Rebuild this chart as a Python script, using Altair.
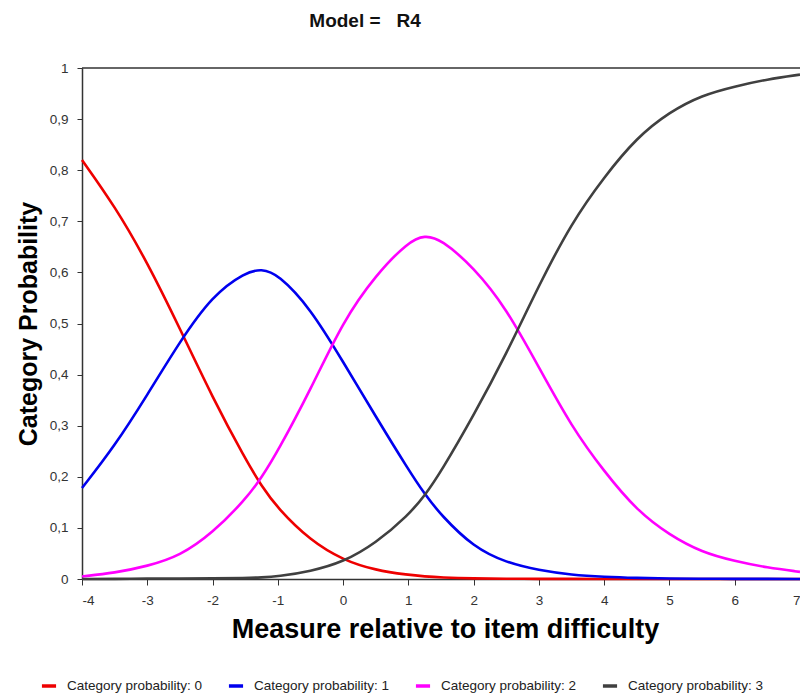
import altair as alt
import pandas as pd

x_vals = [-4, -3.5, -3, -2.5, -2, -1.5, -1.25, -1, -0.5, 0, 0.5, 1, 1.25, 1.5, 2, 2.5, 3, 3.5,
          4, 4.5, 5, 5.5, 6, 6.5, 7]

p0 = [0.82, 0.73, 0.62, 0.49, 0.355, 0.235, 0.182, 0.138, 0.075, 0.037, 0.017, 0.008, 0.005,
      0.003, 0.001, 0.0005, 0.0003, 0.0002, 0.0001, 0.0, 0.0, 0.0, 0.0, 0.0, 0.0]
p1 = [0.178, 0.26, 0.36, 0.465, 0.555, 0.600, 0.607, 0.597, 0.53, 0.425, 0.318, 0.214, 0.166,
      0.125, 0.062, 0.032, 0.017, 0.008, 0.004, 0.002, 0.001, 0.0005, 0.0003, 0.0002, 0.0001]
p2 = [0.005, 0.012, 0.025, 0.045, 0.09, 0.155, 0.198, 0.25, 0.37, 0.505, 0.595, 0.66, 0.673,
      0.665, 0.61, 0.53, 0.414, 0.298, 0.21, 0.134, 0.086, 0.052, 0.035, 0.022, 0.014]
p3 = [0.0, 0.0, 0.001, 0.001, 0.001, 0.002, 0.003, 0.005, 0.015, 0.033, 0.07, 0.125, 0.163,
      0.21, 0.32, 0.44, 0.575, 0.697, 0.787, 0.864, 0.914, 0.947, 0.964, 0.978, 0.987]

categories = ["Category probability: 0", "Category probability: 1",
              "Category probability: 2", "Category probability: 3"]
colors = ["#ee0000", "#0000ee", "#ff00ff", "#404040"]

x_ticks = [-4, -3, -2, -1, 0, 1, 2, 3, 4, 5, 6, 7]
y_ticks = [0, 0.1, 0.2, 0.3, 0.4, 0.5, 0.6, 0.7, 0.8, 0.9, 1]

rows = []
for cat, vals in zip(categories, [p0, p1, p2, p3]):
    for xv, pv in zip(x_vals, vals):
        rows.append({"x": xv, "p": pv, "cat": cat})
df = pd.DataFrame(rows)

W, H = 718, 511

lines = alt.Chart(df).mark_line(strokeWidth=2.6, interpolate="basis").encode(
    x=alt.X("x:Q",
            scale=alt.Scale(domain=[-4, 7], nice=False, zero=False),
            axis=alt.Axis(values=x_ticks, title="Measure relative to item difficulty",
                          labelExpr="'' + datum.value",
                          tickSize=6, labelPadding=8,
                          titleX=(445 - 82), titleY=58, titleAlign="center",
                          titleBaseline="alphabetic", titleFontSize=27)),
    y=alt.Y("p:Q",
            scale=alt.Scale(domain=[0, 1], nice=False),
            axis=alt.Axis(values=y_ticks, title="Category Probability",
                          labelExpr="datum.value == 0 ? '0' : (datum.value == 1 ? '1' : replace(format(datum.value, '.1f'), '.', ','))",
                          tickSize=5, labelPadding=9,
                          titleX=-54, titleY=H / 2, titleAlign="center",
                          titleBaseline="middle", titleAngle=-90, titleFontSize=25)),
    color=alt.Color("cat:N",
                    scale=alt.Scale(domain=categories, range=colors),
                    legend=alt.Legend(title=None, orient="none", legendX=-42, legendY=609,
                                      direction="horizontal", symbolType="stroke",
                                      symbolStrokeWidth=3.5, symbolSize=200,
                                      labelFontSize=13.5, labelOffset=9,
                                      columnPadding=18, labelColor="#222",
                                      labelFont="Liberation Sans")),
)

top_rule = alt.Chart(pd.DataFrame({"y": [1]})).mark_rule(color="#333333", strokeWidth=1.5).encode(
    y="y:Q"
)

title_text = alt.Chart(pd.DataFrame({"t": ["Model =\u00a0\u00a0 R4"]})).mark_text(
    font="Liberation Sans", fontSize=19, fontWeight="bold", color="#111111",
    align="center", baseline="alphabetic"
).encode(text="t:N", x=alt.value(365 - 82), y=alt.value(-41))

chart = alt.layer(top_rule, lines, title_text).properties(
    width=W, height=H,
    autosize=alt.AutoSizeParams(type="none"),
    padding={"left": 74, "top": 60, "right": 0, "bottom": 120},
).configure_view(stroke=None).configure_axis(
    grid=False, domainColor="#333333", tickColor="#333333", domainWidth=1.5,
    labelColor="#333333", labelFont="Liberation Sans", labelFontSize=13.5,
    titleFont="Liberation Sans", titleFontWeight="bold", titleColor="#000000",
)

chart.save("out.html", embed_options={"renderer": "svg", "actions": False})
